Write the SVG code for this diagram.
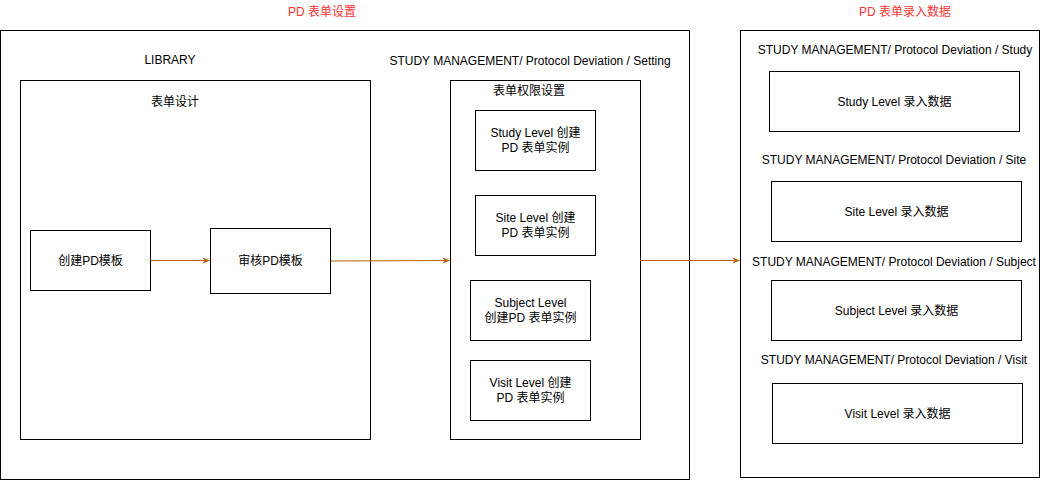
<svg xmlns="http://www.w3.org/2000/svg" width="1051" height="481" viewBox="0 0 1051 481">
<style>
.b{fill:#fff;stroke:#000;stroke-width:1}
text{font-family:"Liberation Sans","Noto Sans CJK SC",sans-serif;font-size:12px;fill:#000;text-anchor:middle;dominant-baseline:central}
.r{fill:#ff3333}
.c{fill:none;stroke:#b46504;stroke-width:1}
</style>
<defs>
<marker id="ah" viewBox="0 0 10 10" refX="9" refY="5" markerWidth="8" markerHeight="8" markerUnits="userSpaceOnUse" orient="auto">
<path d="M0,1 L10,5 L0,9 L3,5 Z" fill="#b46504"/>
</marker>
</defs>
<text class="r" x="322" y="12">PD 表单设置</text>
<text class="r" x="905" y="12">PD 表单录入数据</text>
<g id="setup"><rect class="b" x="0.5" y="30.5" width="689" height="449"/></g>
<g id="entry"><rect class="b" x="740.5" y="30.5" width="299" height="447"/></g>
<text x="170" y="60">LIBRARY</text>
<text x="530" y="61">STUDY MANAGEMENT/ Protocol Deviation / Setting</text>
<g id="library"><rect class="b" x="20.5" y="80.5" width="350" height="359"/><text x="175" y="102">表单设计</text></g>
<g id="create"><rect class="b" x="30.5" y="230.5" width="120" height="60"/><text x="90.5" y="261">创建PD模板</text></g>
<g id="review"><rect class="b" x="210.5" y="228.5" width="120" height="65"/><text x="270.5" y="261">审核PD模板</text></g>
<g id="setting"><rect class="b" x="450.5" y="80.5" width="190" height="359"/><text x="529" y="91">表单权限设置</text></g>
<g id="s1"><rect class="b" x="475.5" y="110.5" width="120" height="60"/><text x="535.5" y="133">Study Level 创建</text><text x="535.5" y="148">PD 表单实例</text></g>
<g id="s2"><rect class="b" x="475.5" y="195.5" width="120" height="60"/><text x="535.5" y="218">Site Level 创建</text><text x="535.5" y="233">PD 表单实例</text></g>
<g id="s3"><rect class="b" x="470.5" y="280.5" width="120" height="60"/><text x="530.5" y="303">Subject Level</text><text x="530.5" y="318">创建PD 表单实例</text></g>
<g id="s4"><rect class="b" x="470.5" y="360.5" width="120" height="60"/><text x="530.5" y="383">Visit Level 创建</text><text x="530.5" y="398">PD 表单实例</text></g>
<text x="895" y="50">STUDY MANAGEMENT/ Protocol Deviation / Study</text>
<g id="e1"><rect class="b" x="769.5" y="71.5" width="250" height="60"/><text x="894.5" y="102">Study Level 录入数据</text></g>
<text x="894" y="160">STUDY MANAGEMENT/ Protocol Deviation / Site</text>
<g id="e2"><rect class="b" x="771.5" y="181.5" width="250" height="60"/><text x="896.5" y="212">Site Level 录入数据</text></g>
<text x="894" y="262">STUDY MANAGEMENT/ Protocol Deviation / Subject</text>
<g id="e3"><rect class="b" x="771.5" y="280.5" width="250" height="60"/><text x="896.5" y="311">Subject Level 录入数据</text></g>
<text x="894" y="360">STUDY MANAGEMENT/ Protocol Deviation / Visit</text>
<g id="e4"><rect class="b" x="772.5" y="383.5" width="250" height="60"/><text x="897.5" y="414">Visit Level 录入数据</text></g>
<g id="connectors">
<path class="c" d="M150.5,260.5 L209.5,260.5" marker-end="url(#ah)"/>
<path class="c" d="M330.5,261 L449.5,260.5" marker-end="url(#ah)"/>
<path class="c" d="M640.5,260.5 L739.5,260.5" marker-end="url(#ah)"/>
</g>
</svg>
